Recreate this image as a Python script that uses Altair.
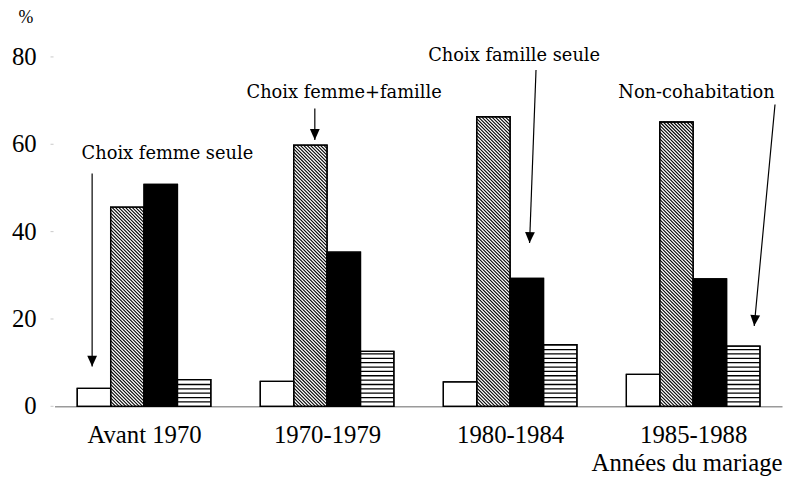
import json
import math
import altair as alt
import pandas as pd

# ---------------- data ----------------
periods = ["Avant 1970", "1970-1979", "1980-1984", "1985-1988"]
series_names = ["Choix femme seule", "Choix femme+famille",
                "Choix famille seule", "Non-cohabitation"]
femme_seule = [4.1, 5.7, 5.6, 7.3]
femme_famille = [45.6, 59.8, 66.3, 65.1]
famille_seule = [50.8, 35.3, 29.3, 29.2]
non_cohabitation = [6.1, 12.6, 14.1, 13.8]
y_ticks = [0, 20, 40, 60, 80]
x_title = "Années du mariage"
y_title = "%"

# annotation labels (data units) and their arrows (start -> tip, data units)
ann_x = [3.38, 8.67, 13.76, 19.22]
ann_y = [56.7, 70.5, 79.1, 70.5]
arrow_x0 = [1.126, 7.793, 14.415, 21.570]
arrow_y0 = [53.3, 68.2, 77.0, 69.1]
arrow_x1 = [1.126, 7.793, 14.222, 20.948]
arrow_y1 = [9.1, 61.0, 37.4, 18.4]

# ---------------- layout ----------------
PLOT_W, PLOT_H = 735, 353
X_MAX, Y_MAX = 21.78, 80
PX_X = PLOT_W / X_MAX
PX_Y = PLOT_H / Y_MAX
GROUP_START, GROUP_PITCH = 0.68, 5.48
SERIF = "Liberation Serif, Times New Roman, serif"

all_series = [femme_seule, femme_famille, famille_seule, non_cohabitation]
fills = ["white", "white", "black", "white"]

bar_rows = []
for g, p in enumerate(periods):
    for s, vals in enumerate(all_series):
        x0 = GROUP_START + g * GROUP_PITCH + s
        bar_rows.append(dict(period=p, series=series_names[s], value=vals[g],
                             x0=x0, x1=x0 + 1, zero=0.0))
bars_df = pd.DataFrame(bar_rows)

# diagonal hatch for "Choix femme+famille"
diag_rows = []
step = 3.4
for r in bar_rows:
    if r["series"] != series_names[1]:
        continue
    w = PX_X
    h = r["value"] * PX_Y
    c = step / 2
    while c < w + h:
        ua = max(0.0, c - h)
        va = c - ua
        ub = min(w, c)
        vb = c - ub
        diag_rows.append(dict(x=r["x0"] + ua / PX_X, y=va / PX_Y,
                              x2=r["x0"] + ub / PX_X, y2=vb / PX_Y))
        c += step
diag_df = pd.DataFrame(diag_rows)

# horizontal lines for "Non-cohabitation"
hl_rows = []
for r in bar_rows:
    if r["series"] != series_names[3]:
        continue
    k = 1.0
    while k < r["value"] - 0.3:
        hl_rows.append(dict(x=r["x0"], x2=r["x1"], y=k))
        k += 1.0
hl_df = pd.DataFrame(hl_rows)

ann_df = pd.DataFrame(dict(text=series_names, x=ann_x, y=ann_y))
arr_rows = []
for i in range(len(arrow_x0)):
    dx = (arrow_x1[i] - arrow_x0[i]) * PX_X
    dy = -(arrow_y1[i] - arrow_y0[i]) * PX_Y
    ang = math.degrees(math.atan2(-dx, dy)) % 360
    arr_rows.append(dict(x=arrow_x0[i], y=arrow_y0[i],
                         x2=arrow_x1[i], y2=arrow_y1[i], angle=ang))
arr_df = pd.DataFrame(arr_rows)

ytick_df = pd.DataFrame(dict(tick=y_ticks, label=[str(t) for t in y_ticks]))
ytitle_df = pd.DataFrame(dict(label=[y_title]))

# ---------------- scales / axes ----------------
xscale = alt.Scale(domain=[0, X_MAX], nice=False, zero=False)
yscale = alt.Scale(domain=[0, Y_MAX], nice=False)
centers = [round(GROUP_START + g * GROUP_PITCH + 2, 4) for g in range(len(periods))]
xaxis = alt.Axis(
    values=centers,
    labelExpr=f"{json.dumps(periods)}[round((datum.value - {GROUP_START + 2}) / {GROUP_PITCH})]",
    ticks=False, tickSize=0, domainColor="#9a9a9a", domainWidth=1.5,
    labelFont=SERIF, labelFontSize=25, labelColor="black",
    labelBaseline="alphabetic", labelPadding=37, labelFlush=False,
    labelOverlap=False, grid=False,
    title=x_title, titleFont=SERIF, titleFontSize=25, titleFontWeight="normal",
    titleColor="black", titleX=PLOT_W, titleY=65,
    titleAlign="right", titleBaseline="alphabetic")


def X(f):
    return alt.X(f, type="quantitative", scale=xscale, axis=xaxis)


def Y(f):
    return alt.Y(f, type="quantitative", scale=yscale, axis=None)


fill_scale = alt.Scale(domain=series_names, range=fills)

bars = alt.Chart(bars_df).mark_rect(stroke="black", strokeWidth=1.3).encode(
    x=X("x0"), x2="x1", y=Y("zero"), y2="value",
    fill=alt.Fill("series:N", scale=fill_scale, legend=None))

diag = alt.Chart(diag_df).mark_rule(color="black", strokeWidth=1.1).encode(
    x=X("x"), y=Y("y"), x2="x2", y2="y2")

hlines = alt.Chart(hl_df).mark_rule(color="black", strokeWidth=1.3).encode(
    x=X("x"), x2="x2", y=Y("y"))

outline = alt.Chart(bars_df).mark_rect(stroke="black", strokeWidth=1.3,
                                       fillOpacity=0).encode(
    x=X("x0"), x2="x1", y=Y("zero"), y2="value")

arrows = alt.Chart(arr_df).mark_rule(color="black", strokeWidth=1.2).encode(
    x=X("x"), y=Y("y"), x2="x2", y2="y2")

heads = alt.Chart(arr_df).mark_point(
    shape="M0,0 L-0.9,-2 L0.9,-2 Z", filled=True, size=121, color="black",
    opacity=1, strokeWidth=0).encode(
    x=X("x2"), y=Y("y2"), angle=alt.Angle("angle:Q", scale=None))

labels = alt.Chart(ann_df).mark_text(
    font="DejaVu Serif", fontSize=18, align="center", baseline="alphabetic",
    color="black").encode(x=X("x"), y=Y("y"), text="text:N")

# y axis drawn by hand: faint ticks + serif labels through the y scale
yticks = alt.Chart(ytick_df).mark_rule(color="#c8c8c8", strokeWidth=1).encode(
    x=alt.value(-4), x2=alt.value(-1), y=Y("tick"))
ylabels = alt.Chart(ytick_df).mark_text(
    font=SERIF, fontSize=25, align="right", baseline="middle", dx=-18,
    color="black").encode(x=alt.value(0), y=Y("tick"), text="label:N")
ytitle = alt.Chart(ytitle_df).mark_text(
    font=SERIF, fontSize=18, align="center", baseline="alphabetic",
    color="black").encode(x=alt.value(-29), y=alt.value(-34), text="label:N")

chart = alt.layer(bars, diag, hlines, outline, arrows, heads, labels,
                  yticks, ylabels, ytitle).properties(
    width=PLOT_W, height=PLOT_H,
    autosize=alt.AutoSizeParams(type="none"),
    padding={"left": 47, "top": 47, "right": 2, "bottom": 72},
).configure_view(stroke=None)

chart.save("out.html", embed_options={"renderer": "svg", "actions": False})
